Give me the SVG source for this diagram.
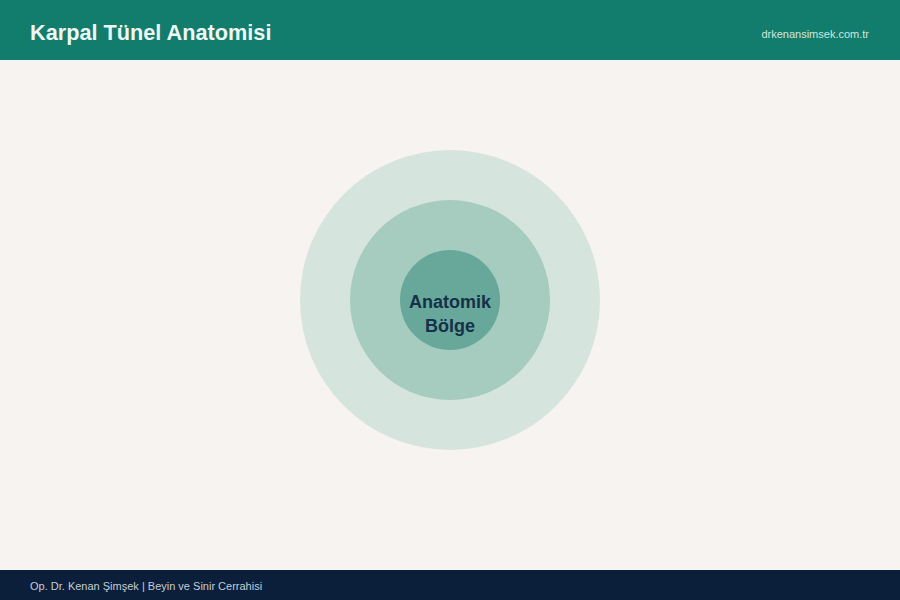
<svg xmlns="http://www.w3.org/2000/svg" width="900" height="600" viewBox="0 0 900 600">
<style>
text{font-family:"Liberation Sans",Arial,sans-serif}
.title{font-size:21.7px;font-weight:bold;fill:#eef7f3}
.site{font-size:11px;fill:#cfe6df}
.foot{font-size:11px;fill:#c5ccd6}
.lbl{font-size:18px;font-weight:bold;fill:#163049}
</style>
<rect x="0" y="0" width="900" height="600" fill="#f7f3f0"/>
<g id="header">
<rect x="0" y="0" width="900" height="60" fill="#127d6d"/>
<text class="title" x="30" y="40">Karpal Tünel Anatomisi</text>
<text class="site" x="869" y="38" text-anchor="end">drkenansimsek.com.tr</text>
</g>
<g id="outer"><circle cx="450" cy="300" r="150" fill="#d6e4de"/></g>
<g id="middle"><circle cx="450" cy="300" r="100" fill="#a6cbbf"/></g>
<g id="inner"><circle cx="450" cy="300" r="50" fill="#67a89b"/>
<text class="lbl" x="450" y="308" text-anchor="middle">Anatomik</text>
<text class="lbl" x="450" y="332" text-anchor="middle">Bölge</text>
</g>
<g id="connectors"></g>
<g id="footer">
<rect x="0" y="570" width="900" height="30" fill="#0b1f3a"/>
<text class="foot" x="30" y="590">Op. Dr. Kenan Şimşek | Beyin ve Sinir Cerrahisi</text>
</g>
</svg>
